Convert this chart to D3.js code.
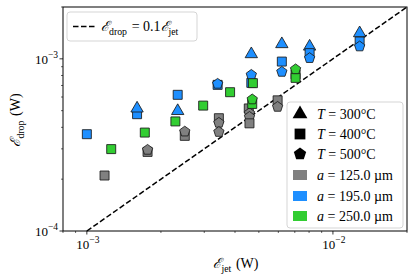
<!DOCTYPE html>
<html>
<head>
  <meta charset="utf-8">
  <title>drop vs jet</title>
  <script type="text/javascript" src="https://cdn.jsdelivr.net/npm/d3@7/dist/d3.min.js"></script>
  <style>
    body { margin: 0; background: #fff; }
    text { font-family: "Liberation Serif", "DejaVu Serif", serif; fill: #000; }
  </style>
</head>
<body>
<svg id="chart"></svg>
<script>
  // values: [E_jet (W), E_drop (W), T (degC)]
  var sizes = [125.0, 195.0, 250.0];
  var temps = [300, 400, 500];
  var sizeColors = ["#808080", "#1e8fff", "#32cd32"];
  var xTickVals = [1e-3, 1e-2];
  var yTickVals = [1e-4, 1e-3];

  var points125 = [
    [1.18e-3, 2.10e-4, 400], [1.765e-3, 2.88e-4, 400], [1.765e-3, 2.96e-4, 500],
    [2.50e-3, 3.57e-4, 400], [2.50e-3, 3.78e-4, 500],
    [3.44e-3, 4.52e-4, 400], [3.44e-3, 4.25e-4, 500], [3.44e-3, 3.76e-4, 500],
    [4.55e-3, 5.15e-4, 400], [4.58e-3, 4.83e-4, 500], [4.58e-3, 4.60e-4, 500], [4.58e-3, 4.22e-4, 400],
    [5.96e-3, 5.74e-4, 400], [5.96e-3, 5.26e-4, 500]
  ];
  var points195 = [
    [1.0e-3, 3.65e-4, 400],
    [1.60e-3, 4.77e-4, 400], [1.60e-3, 5.15e-4, 300],
    [2.34e-3, 6.18e-4, 400], [2.34e-3, 4.98e-4, 300],
    [3.40e-3, 7.06e-4, 400], [3.40e-3, 7.16e-4, 500],
    [4.66e-3, 1.065e-3, 300], [4.66e-3, 7.25e-4, 400], [4.66e-3, 8.07e-4, 500],
    [6.2e-3, 1.218e-3, 300], [6.2e-3, 9.64e-4, 400], [6.2e-3, 8.40e-4, 500],
    [8.04e-3, 1.179e-3, 300], [8.04e-3, 1.079e-3, 400], [8.04e-3, 1.01e-3, 500],
    [1.284e-2, 1.41e-3, 300], [1.284e-2, 1.26e-3, 400], [1.284e-2, 1.18e-3, 500]
  ];
  var points250 = [
    [1.256e-3, 2.99e-4, 400], [1.72e-3, 3.73e-4, 400], [2.29e-3, 4.33e-4, 400],
    [2.97e-3, 5.35e-4, 400], [3.82e-3, 6.40e-4, 400],
    [4.73e-3, 7.22e-4, 400], [4.70e-3, 5.47e-4, 400], [4.70e-3, 5.81e-4, 500],
    [7.05e-3, 8.12e-4, 400], [7.05e-3, 7.75e-4, 400], [7.05e-3, 8.69e-4, 500]
  ];
  var pointSets = [points125, points195, points250];

  var width = 415, height = 280;
  var margin = {left: 63, right: 8, top: 7, bottom: 49};

  var svg = d3.select("#chart").attr("width", width).attr("height", height);

  var x = d3.scaleLog().domain([8e-4, 2e-2]).range([margin.left, width - margin.right]);
  var y = d3.scaleLog().domain([1e-4, 2e-3]).range([height - margin.bottom, margin.top]);

  // symbols
  function pentagonPath(r) {
    var pts = [];
    for (var i = 0; i < 5; i++) {
      var a = -Math.PI / 2 + i * 2 * Math.PI / 5;
      pts.push([r * Math.cos(a), r * Math.sin(a)]);
    }
    return "M" + pts.map(function(p) { return p[0].toFixed(2) + "," + p[1].toFixed(2); }).join("L") + "Z";
  }
  function markerPath(t, scale) {
    scale = scale || 1;
    if (t === 300) return d3.symbol(d3.symbolTriangle, 66 * scale * scale)();
    if (t === 400) return d3.symbol(d3.symbolSquare, 81 * scale * scale)();
    return pentagonPath(5.4 * scale);
  }

  // reference line
  svg.append("line")
    .attr("x1", x(1e-3)).attr("y1", y(1e-4))
    .attr("x2", x(2e-2)).attr("y2", y(2e-3))
    .attr("stroke", "#000").attr("stroke-width", 1.5)
    .attr("stroke-dasharray", "5.5,2.5");

  // points
  pointSets.forEach(function(set, si) {
    svg.append("g").selectAll("path").data(set).enter().append("path")
      .attr("d", function(d) { return markerPath(d[2]); })
      .attr("transform", function(d) { return "translate(" + x(d[0]) + "," + y(d[1]) + ")"; })
      .attr("fill", sizeColors[si])
      .attr("stroke", "#1a1a1a").attr("stroke-opacity", 0.85).attr("stroke-width", 1);
  });

  // frame
  svg.append("rect")
    .attr("x", margin.left).attr("y", margin.top)
    .attr("width", width - margin.left - margin.right)
    .attr("height", height - margin.top - margin.bottom)
    .attr("fill", "none").attr("stroke", "#000").attr("stroke-width", 1);

  // ticks
  var xMinor = [], yMinor = [];
  [1e-4, 1e-3, 1e-2].forEach(function(dec) {
    for (var k = 2; k <= 9; k++) {
      var v = k * dec;
      if (v >= 8e-4 && v <= 2e-2) xMinor.push(v);
      if (v >= 1e-4 && v <= 2e-3) yMinor.push(v);
    }
  });
  var bottom = height - margin.bottom;
  svg.append("g").selectAll("line").data(xMinor).enter().append("line")
    .attr("x1", x).attr("x2", x).attr("y1", bottom).attr("y2", bottom + 2)
    .attr("stroke", "#000").attr("stroke-width", 0.6);
  svg.append("g").selectAll("line").data(xTickVals).enter().append("line")
    .attr("x1", x).attr("x2", x).attr("y1", bottom).attr("y2", bottom + 3.5)
    .attr("stroke", "#000").attr("stroke-width", 0.8);
  svg.append("g").selectAll("line").data(yMinor).enter().append("line")
    .attr("y1", y).attr("y2", y).attr("x1", margin.left).attr("x2", margin.left - 2)
    .attr("stroke", "#000").attr("stroke-width", 0.6);
  svg.append("g").selectAll("line").data(yTickVals).enter().append("line")
    .attr("y1", y).attr("y2", y).attr("x1", margin.left).attr("x2", margin.left - 3.5)
    .attr("stroke", "#000").attr("stroke-width", 0.8);

  function powLabel(sel, v) {
    var e = Math.round(Math.log10(v));
    sel.append("tspan").text("10");
    sel.append("tspan").attr("dy", -6).attr("font-size", 9.5).text("\u2212" + Math.abs(e));
  }
  xTickVals.forEach(function(v) {
    var t = svg.append("text").attr("x", x(v) + 1).attr("y", bottom + 18)
      .attr("text-anchor", "middle").attr("font-size", 13);
    powLabel(t, v);
  });
  yTickVals.forEach(function(v) {
    var t = svg.append("text").attr("x", margin.left - 5).attr("y", y(v) + 5)
      .attr("text-anchor", "end").attr("font-size", 13);
    powLabel(t, v);
  });

  // script E with subscript
  function scriptE(sel, sub, size) {
    sel.append("tspan").attr("font-family", "DejaVu Serif").attr("font-style", "italic").text("\u2130");
    sel.append("tspan").attr("font-size", size * 0.7).attr("dy", size * 0.25).text(sub);
    sel.append("tspan").attr("dy", -size * 0.25).text("\u200a");
  }

  // axis labels
  var xl = svg.append("text").attr("x", 236).attr("y", 268).attr("text-anchor", "middle").attr("font-size", 14);
  scriptE(xl, "jet", 14);
  xl.append("tspan").text(" (W)");
  var yl = svg.append("text").attr("transform", "translate(20," + 120 + ") rotate(-90)")
    .attr("text-anchor", "middle").attr("font-size", 14);
  scriptE(yl, "drop", 14);
  yl.append("tspan").text(" (W)");

  // upper-left legend
  svg.append("rect").attr("x", 67).attr("y", 12).attr("width", 130).attr("height", 29)
    .attr("rx", 3).attr("fill", "#fff").attr("fill-opacity", 0.8)
    .attr("stroke", "#d5d5d5").attr("stroke-width", 1);
  svg.append("line").attr("x1", 73).attr("x2", 97).attr("y1", 26.5).attr("y2", 26.5)
    .attr("stroke", "#000").attr("stroke-width", 1.5).attr("stroke-dasharray", "5.5,2.5");
  var lt = svg.append("text").attr("x", 101).attr("y", 31).attr("font-size", 14);
  scriptE(lt, "drop", 14);
  lt.append("tspan").text(" = 0.1");
  scriptE(lt, "jet", 14);

  // lower-right legend
  svg.append("rect").attr("x", 287).attr("y", 102).attr("width", 116).attr("height", 126)
    .attr("rx", 3).attr("fill", "#fff").attr("fill-opacity", 0.8)
    .attr("stroke", "#d5d5d5").attr("stroke-width", 1);
  var rowY = [114, 134, 154, 175, 196, 216];
  temps.forEach(function(t, i) {
    svg.append("path").attr("d", markerPath(t, 1.2))
      .attr("transform", "translate(300," + rowY[i] + ")").attr("fill", "#000");
    var tx = svg.append("text").attr("x", 317).attr("y", rowY[i] + 5).attr("font-size", 14);
    tx.append("tspan").attr("font-style", "italic").text("T");
    tx.append("tspan").text(" = " + t + "\u00b0C");
  });
  sizes.forEach(function(s, i) {
    var ry = rowY[3 + i];
    svg.append("rect").attr("x", 293).attr("y", ry - 5).attr("width", 14).attr("height", 10)
      .attr("fill", sizeColors[i]);
    var tx = svg.append("text").attr("x", 317).attr("y", ry + 5).attr("font-size", 14);
    tx.append("tspan").attr("font-style", "italic").text("a");
    tx.append("tspan").text(" = " + s.toFixed(1) + " \u00b5m");
  });
</script>
</body>
</html>
